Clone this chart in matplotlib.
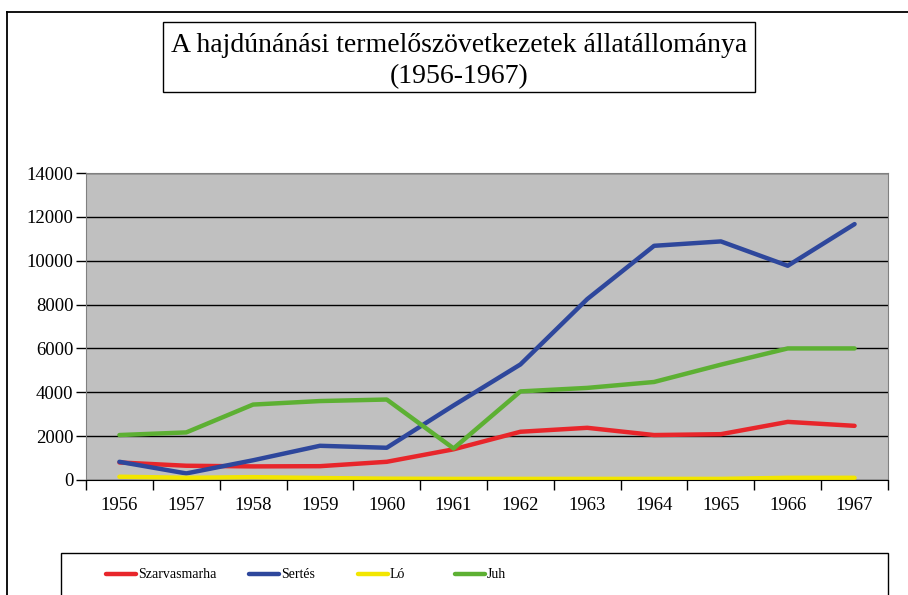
import numpy as np
import matplotlib.pyplot as plt
from matplotlib.patches import Rectangle
from matplotlib.lines import Line2D

plt.rcParams['font.family'] = ['Liberation Serif', 'DejaVu Serif']

years = ["1956", "1957", "1958", "1959", "1960", "1961",
         "1962", "1963", "1964", "1965", "1966", "1967"]
szarvasmarha = [800, 650, 620, 630, 830, 1400, 2200, 2380, 2050, 2090, 2650, 2470]
sertes = [830, 300, 900, 1560, 1470, 3400, 5270, 8250, 10680, 10880, 9770, 11670]
lo = [150, 100, 130, 90, 60, 50, 50, 50, 50, 50, 100, 100]
juh = [2050, 2170, 3440, 3600, 3670, 1440, 4040, 4200, 4470, 5260, 6000, 6000]

W, H = 908, 595
fig = plt.figure(figsize=(W / 100, H / 100), dpi=100)

# outer frame (runs off the right and bottom edge)
fig.add_artist(Line2D([7 / W, 7 / W], [0, 1 - 12 / H], color="black", lw=1.3))
fig.add_artist(Line2D([7 / W, 1], [1 - 12 / H, 1 - 12 / H], color="black", lw=1.3))

# title box
fig.add_artist(Rectangle((163 / W, 1 - 92 / H), (755 - 163) / W, 70 / H,
                         fill=False, edgecolor="black", lw=1.0))
fig.text(459 / W, 1 - 61 / H,
         "A hajdúnánási termelőszövetkezetek állatállománya\n(1956-1967)",
         ha="center", va="center", fontsize=20, linespacing=1.3)

ax = fig.add_axes([86 / W, (H - 480) / H, (888 - 86) / W, (480 - 173) / H])
ax.set_facecolor("#C0C0C0")

x = np.arange(len(years))
l1, = ax.plot(x, szarvasmarha, color="#E8262B", lw=3.2, solid_capstyle="round")
l2, = ax.plot(x, sertes, color="#2E479C", lw=3.2, solid_capstyle="round")
l3, = ax.plot(x, lo, color="#F2E600", lw=3.2, solid_capstyle="round")
l4, = ax.plot(x, juh, color="#5DB033", lw=3.2, solid_capstyle="round")

ax.set_xlim(-0.5, len(years) - 0.5)
ax.set_ylim(0, 14000)
ax.set_yticks(range(0, 14001, 2000))
ax.set_xticks(x)
ax.set_xticklabels(years)
ax.set_xticks(np.arange(-0.5, len(years), 1), minor=True)
ax.tick_params(axis="x", which="major", length=0, pad=12, labelsize=13.5)
ax.tick_params(axis="x", which="minor", length=7, width=1, color="black")
ax.tick_params(axis="y", length=7, width=1, pad=2, labelsize=13.5)
ax.yaxis.grid(True, color="black", lw=1)
ax.set_axisbelow(True)
for s in ax.spines.values():
    s.set_color("#808080")
ax.spines["bottom"].set_color("black")

# legend box, drawn by hand to keep the spacing of the original
fig.add_artist(Rectangle((61 / W, -0.05), (888 - 61) / W, 0.05 + (H - 553) / H,
                         fill=False, edgecolor="black", lw=1.0))
names = ["Szarvasmarha", "Sertés", "Ló", "Juh"]
starts = [106, 249, 358, 455]
ly = 1 - 574 / H
for line, name, sx in zip([l1, l2, l3, l4], names, starts):
    fig.add_artist(Line2D([sx / W, (sx + 30) / W], [ly, ly], color=line.get_color(),
                          lw=3.2, solid_capstyle="round"))
    fig.text((sx + 32) / W, ly, name, ha="left", va="center", fontsize=10)

fig.savefig("out.png", dpi=100)
